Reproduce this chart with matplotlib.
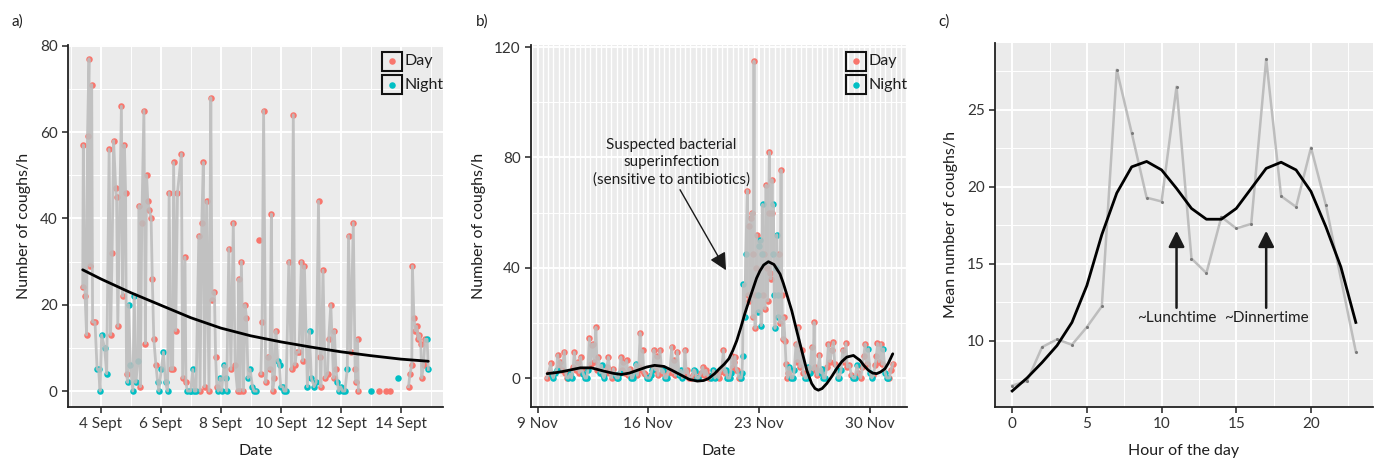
import numpy as np
import matplotlib
matplotlib.use('Agg')
import matplotlib.pyplot as plt
from matplotlib.patches import Rectangle
from matplotlib.ticker import MultipleLocator, FixedLocator

plt.rcParams['font.family'] = ['Lato', 'DejaVu Sans']

DAY_C = '#F8766D'
NIGHT_C = '#00BFC4'
BG = '#EBEBEB'
LINE_GREY = '#BDBDBD'

# ---------------- Panel a: September (fractional day of month) ----------------
sept_time = [3.40, 3.42, 3.48, 3.53, 3.56, 3.61, 3.64, 3.70, 3.73, 3.81, 3.88, 3.93, 3.98, 4.03, 4.13, 4.20,
             4.28, 4.33, 4.38, 4.43, 4.50, 4.53, 4.57, 4.69, 4.73, 4.79, 4.83, 4.86, 4.90, 4.93, 4.99, 5.07, 5.12, 5.17, 5.24,
             5.28, 5.32, 5.37, 5.44, 5.49, 5.53, 5.57, 5.62, 5.68, 5.72, 5.77, 5.84, 5.90, 5.94, 6.02, 6.09, 6.16, 6.23,
             6.28, 6.34, 6.40, 6.43, 6.50, 6.56, 6.69, 6.73, 6.81, 6.84, 6.89, 6.96, 7.00, 7.07, 7.12, 7.18,
             7.27, 7.31, 7.37, 7.42, 7.46, 7.53, 7.61, 7.67, 7.71, 7.79, 7.83, 7.87, 7.92, 7.98, 8.03, 8.11, 8.16, 8.20,
             8.27, 8.34, 8.42, 8.48, 8.56, 8.60, 8.64, 8.69, 8.76, 8.81, 8.86, 8.91, 8.98, 9.06, 9.11, 9.18,
             9.22, 9.27, 9.31,
             9.34, 9.38, 9.43, 9.50, 9.58, 9.64, 9.69, 9.73, 9.79, 9.84, 9.90, 9.96, 10.00, 10.07, 10.11, 10.18,
             10.27, 10.36, 10.42, 10.47, 10.53, 10.61, 10.69, 10.73, 10.79, 10.89, 10.96, 11.02, 11.11, 11.18,
             11.26, 11.31, 11.34, 11.41, 11.48, 11.56, 11.60, 11.67, 11.76, 11.79, 11.84, 11.89, 11.93, 12.00, 12.06, 12.14, 12.22,
             12.26, 12.33, 12.42, 12.48, 12.51, 12.56, 12.59,
             12.80, 13.00, 13.13, 13.26, 13.38, 13.50, 13.57, 13.64, 13.78, 13.92, 14.10,
             14.26, 14.31, 14.37, 14.39, 14.44, 14.49, 14.53, 14.59, 14.62, 14.67, 14.70, 14.76, 14.81, 14.88, 14.92]
nan = float('nan')
sept_coughs = [24, 57, 22, 13, 59, 77, 29, 71, 16, 16, 5, 5, 0, 13, 10, 4,
               56, 13, 32, 58, 47, 45, 15, 66, 22, 57, 46, 4, 2, 20, 6, 0, 22, 2, 7,
               43, 1, 39, 65, 11, 50, 44, 42, 40, 26, 12, 6, 2, 0, 5, 9, 2, 0,
               46, 5, 5, 53, 14, 46, 55, 3, 31, 2, 0, 0, 0, 5, 0, 0,
               36, 0, 39, 53, 1, 44, 0, 68, 21, 23, 8, 1, 0, 3, 0, 6, 3, 0,
               33, 5, 39, 6, 0, 26, 0, 30, 0, 20, 17, 3, 5, 1, 0, 0,
               nan, 35, nan,
               4, 16, 65, 2, 8, 5, 41, 0, 3, 14, 7, 6, 1, 1, 0, 0,
               30, 5, 64, 6, 9, 9, 30, 7, 29, 1, 14, 3, 1, 2,
               44, 8, 1, 28, 3, 4, 12, 20, 3, 14, 5, 2, 0, 1, 0, 0, 5,
               36, 9, 39, 5, 2, 12, 0,
               nan, 0, nan, 0, nan, 0, nan, 0, nan, 3, nan,
               1, 4, 6, 29, 17, 14, 15, 12, 13, 11, 3, 6, 12, 12, 5]
sept_trend_time = [3.40, 4.0, 5.0, 6.0, 7.0, 8.0, 9.0, 10.0, 11.0, 12.0, 13.0, 14.0, 14.92]
sept_trend = [28.1, 26.0, 22.8, 19.9, 17.0, 14.6, 12.8, 11.4, 10.2, 9.1, 8.2, 7.4, 6.9]
sept_ticks = [4, 6, 8, 10, 12, 14]
sept_ticklabels = ['4 Sept', '6 Sept', '8 Sept', '10 Sept', '12 Sept', '14 Sept']

# ---------------- Panel b: November (fractional day; >30 = December) ----------------
nov_time = [9.57, 9.70, 9.82, 9.92, 9.99, 10.10, 10.20, 10.27, 10.34, 10.41, 10.55, 10.69, 10.76, 10.84, 10.95,
            11.05, 11.15, 11.25, 11.32, 11.42, 11.53, 11.63, 11.72, 11.80, 11.89, 12.00, 12.10, 12.18, 12.27, 12.35,
            12.42, 12.48, 12.58, 12.69, 12.76, 12.84, 12.95, 13.05, 13.12, 13.20, 13.30, 13.38, 13.47, 13.57, 13.68,
            13.79, 13.90, 14.00, 14.10, 14.18, 14.27, 14.35, 14.42, 14.52, 14.63, 14.73, 14.84, 14.93, 15.01, 15.12,
            15.22, 15.30, 15.40, 15.48, 15.56, 15.65, 15.72, 15.79, 15.90, 16.00, 16.07, 16.15, 16.22, 16.30, 16.36,
            16.45, 16.53, 16.62, 16.74, 16.85, 16.95, 17.05, 17.16, 17.25, 17.38, 17.48, 17.56, 17.63, 17.72, 17.84,
            17.95, 18.07, 18.15, 18.25, 18.32, 18.40, 18.47, 18.58, 18.68, 18.80, 18.88, 18.96, 19.06, 19.17, 19.27,
            19.35, 19.44, 19.55, 19.65, 19.75, 19.86, 19.95, 20.05, 20.12, 20.22, 20.33, 20.45, 20.54, 20.65, 20.75,
            20.84, 20.92, 21.00, 21.07, 21.15, 21.22, 21.28, 21.35, 21.42, 21.49, 21.57, 21.64, 21.72, 21.81, 21.88,
            21.94, 21.97, 22.02, 22.10, 22.17, 22.27, 22.30, 22.35, 22.40, 22.47, 22.54, 22.60, 22.65, 22.69, 22.73,
            22.76, 22.80, 22.86, 22.92, 22.97, 23.02, 23.07, 23.14, 23.20, 23.24, 23.28, 23.32, 23.38, 23.45, 23.50,
            23.56, 23.62, 23.66, 23.71, 23.75, 23.80, 23.83, 23.88, 23.92, 23.97, 24.02, 24.08, 24.13, 24.18, 24.23,
            24.28, 24.33, 24.40, 24.45, 24.51, 24.58, 24.65, 24.72, 24.80, 24.87, 24.93, 25.03, 25.14, 25.24, 25.35,
            25.43, 25.50, 25.60, 25.71, 25.80, 25.92, 26.02, 26.13, 26.22, 26.34, 26.42, 26.49, 26.55, 26.62, 26.70,
            26.83, 26.90, 26.97, 27.08, 27.19, 27.30, 27.40, 27.50, 27.60, 27.71, 27.80, 27.92, 28.00, 28.09, 28.20,
            28.30, 28.40, 28.51, 28.60, 28.73, 28.85, 28.98, 29.08, 29.19, 29.30, 29.44, 29.55, 29.64, 29.72, 29.82,
            29.93, 30.03, 30.14, 30.25, 30.35, 30.43, 30.50, 30.60, 30.71, 30.80, 30.88, 30.98, 31.09, 31.18, 31.26,
            31.36, 31.47]
nov_coughs = [0, 2, 5.4, 1, 0, 2, 3, 8.4, 4, 6, 3, 9.6, 2, 0, 0,
              1.5, 0, 4, 9.4, 3, 5.8, 2, 7.6, 3, 1.5, 0, 0, 3, 14.4, 5,
              12, 12.4, 6, 18.4, 3, 7.6, 2, 4.6, 1, 0, 2, 4, 7.6, 2, 0,
              3.4, 1, 0, 0, 2, 7.6, 3, 5.8, 2, 6.4, 1, 3.4, 0, 0, 2,
              5.2, 1, 4, 16.4, 3, 10, 2, 1.5, 0, 0, 0, 1, 2.8, 4, 10.2,
              3, 8, 1, 10.2, 2, 2.8, 0, 0, 2, 3, 11.4, 2, 6.4, 1, 9.6,
              1, 2.8, 0, 1, 10.2, 2, 2.8, 0, 0, 1, 3, 2.6, 0, 0, 1,
              2, 4, 1, 2.8, 1, 0, 0, 1, 2.8, 0, 1.5, 0, 2.2, 3, 10.2,
              2, 2.8, 0, 0, 0, 2, 8, 4, 6, 7.8, 3, 2.8, 0, 0, 0,
              2, 8, 34, 22, 45, 68, 30, 55, 28, 58, 60, 22, 45, 115, 30,
              18, 40, 52, 30, 24, 48, 50, 19, 45, 63, 30, 45, 25, 70, 40,
              28, 60, 82, 38, 36, 60, 72, 45, 63, 30, 18, 40, 52, 30, 22,
              45, 20, 75.5, 30, 14, 22, 13.6, 5, 0, 2, 4, 0, 0, 3, 12.4,
              6, 18.4, 4, 10.2, 2, 0, 0, 4, 2, 11.2, 3, 20.2, 4, 2.8, 1,
              8.4, 2, 3.4, 0, 0, 4, 12.4, 6, 10, 13, 5, 2.8, 0, 0, 3,
              10.2, 6, 12.6, 4, 4.6, 1, 0, 0, 4.6, 2, 0, 4, 8, 12.4, 5,
              10.6, 2, 0, 1, 4.6, 8, 12.6, 6, 12.4, 5, 10.6, 2, 0, 0, 0,
              3, 5.2]
nov_smooth_time = [9.6, 10.2, 10.7, 11.2, 11.7, 12.4, 13.2, 13.8, 14.3, 14.8, 15.3, 15.9, 16.4, 17.0, 17.5,
                   18.1, 18.6, 19.1, 19.5, 19.8, 20.2, 20.5, 20.8, 21.1, 21.35, 21.6, 21.85, 22.1, 22.4, 22.65,
                   22.85, 23.07, 23.3, 23.6, 23.95, 24.34, 24.55, 24.76, 25.08, 25.39, 25.71, 26.03, 26.34, 26.55, 26.76,
                   27.0, 27.29, 27.6, 27.92, 28.25, 28.56, 28.98, 29.4, 29.65, 29.93, 30.2, 30.45, 30.7, 30.98, 31.2, 31.47]
nov_smooth = [1.6, 2.0, 2.5, 3.1, 3.7, 3.7, 2.5, 1.7, 1.3, 1.8, 2.8, 4.0, 4.6, 4.2, 2.8,
              1.0, -0.5, -1.1, -0.9, -0.2, 1.6, 3.4, 5.0, 7.0, 10.0, 13.6, 18.2, 23.2, 28.5, 32.8,
              36.2, 38.9, 41.0, 42.2, 41.2, 37.7, 34.3, 30.4, 24.4, 17.2, 10.0, 2.8, -2.0, -3.8, -4.4,
              -3.8, -2.0, 0.5, 3.4, 6.0, 7.6, 8.2, 6.4, 4.5, 2.8, 1.8, 1.6, 2.2, 3.4, 5.5, 8.8]
nov_ticks = [9, 16, 23, 30]
nov_ticklabels = ['9 Nov', '16 Nov', '23 Nov', '30 Nov']

# ---------------- Panel c: hour of day ----------------
hours = [0, 1, 2, 3, 4, 5, 6, 7, 8, 9, 10, 11, 12, 13, 14, 15, 16, 17, 18, 19, 20, 21, 23]
hour_mean = [7.1, 7.4, 9.6, 10.1, 9.75, 10.9, 12.25, 27.6, 23.5, 19.3, 19.05, 26.5, 15.35, 14.4,
             18.05, 17.3, 17.6, 28.3, 19.4, 18.7, 22.55, 18.8, 9.3]
smooth_hours = list(range(24))
hour_smooth = [6.75, 7.6, 8.6, 9.7, 11.2, 13.6, 16.9, 19.6, 21.3, 21.65, 21.1, 19.9, 18.6, 17.9,
               17.9, 18.6, 19.9, 21.2, 21.6, 21.1, 19.7, 17.4, 14.8, 11.2]

assert len(sept_time) == len(sept_coughs)
assert len(nov_time) == len(nov_coughs), (len(nov_time), len(nov_coughs))
assert len(nov_smooth_time) == len(nov_smooth)


def is_night(t):
    h = (np.asarray(t) % 1.0) * 24
    return (h >= 21) | (h < 6)


FS = 11
TXT = '#1e1e1e'
TICK_TXT = '#333333'

fig = plt.figure(figsize=(13.76, 4.61), dpi=100)
W, H = 1376, 461


def make_ax(x0, x1, ytop, ybot):
    return fig.add_axes([x0 / W, 1 - ybot / H, (x1 - x0) / W, (ybot - ytop) / H])


def style(ax):
    ax.set_facecolor(BG)
    for s in ['top', 'right']:
        ax.spines[s].set_visible(False)
    for s in ['left', 'bottom']:
        ax.spines[s].set_color('#222222')
        ax.spines[s].set_linewidth(1.3)
    ax.tick_params(which='major', direction='out', length=4.5, width=1.1, color='#222222',
                   labelsize=FS, labelcolor=TICK_TXT, pad=3)
    ax.tick_params(which='minor', length=0)
    ax.grid(which='major', color='white', linewidth=1.4)
    ax.grid(which='minor', color='white', linewidth=0.7)
    ax.set_axisbelow(True)


def legend(ax):
    w, h = 0.053, 0.053
    x0 = 0.838
    for i, (lab, col) in enumerate([('Day', DAY_C), ('Night', NIGHT_C)]):
        yb = 0.928 - i * 0.064
        ax.add_patch(Rectangle((x0, yb), w, h, transform=ax.transAxes, fill=False,
                               ec='#111111', lw=1.5, zorder=10, clip_on=False))
        ax.scatter([x0 + w / 2], [yb + h / 2], transform=ax.transAxes, s=22, color=col,
                   zorder=11, clip_on=False, linewidths=0)
        ax.text(x0 + w + 0.006, yb + h / 2, lab, transform=ax.transAxes, va='center',
                ha='left', fontsize=FS + 0.5, color=TXT, zorder=11)


def series(ax, t, v):
    t = np.asarray(t, float)
    v = np.asarray(v, float)
    n = is_night(t)
    ok = ~np.isnan(v)
    ax.scatter(t[ok & ~n], v[ok & ~n], s=22, color=DAY_C, linewidths=0, zorder=2)
    ax.scatter(t[ok & n], v[ok & n], s=22, color=NIGHT_C, linewidths=0, zorder=2)
    ax.plot(t, v, color=LINE_GREY, lw=2.0, alpha=0.9, zorder=3, solid_joinstyle='round')


# ---- panel a
axa = make_ax(68, 443, 45, 407)
style(axa)
series(axa, sept_time, sept_coughs)
axa.plot(sept_trend_time, sept_trend, color='black', lw=2.0, zorder=4, solid_capstyle='round')
axa.set_xlim(2.91, 15.41)
axa.set_ylim(-3.7, 80.2)
axa.xaxis.set_major_locator(FixedLocator(sept_ticks))
axa.set_xticklabels(sept_ticklabels)
axa.xaxis.set_minor_locator(MultipleLocator(1))
axa.yaxis.set_major_locator(MultipleLocator(20))
axa.yaxis.set_minor_locator(MultipleLocator(10))
axa.set_xlabel('Date', fontsize=FS + 0.5, color=TXT, labelpad=9)
axa.set_ylabel('Number of coughs/h', fontsize=FS + 0.5, color=TXT, labelpad=6)
legend(axa)

# ---- panel b
axb = make_ax(531, 907, 45, 407)
style(axb)
series(axb, nov_time, nov_coughs)
axb.plot(nov_smooth_time, nov_smooth, color='black', lw=2.0, zorder=4, solid_capstyle='round')
axb.set_xlim(8.58, 32.37)
axb.set_ylim(-10.5, 120.8)
axb.xaxis.set_major_locator(FixedLocator(nov_ticks))
axb.set_xticklabels(nov_ticklabels)
axb.xaxis.set_minor_locator(MultipleLocator(1 / 3))
axb.yaxis.set_major_locator(MultipleLocator(40))
axb.yaxis.set_minor_locator(MultipleLocator(20))
axb.grid(which='minor', axis='x', color='white', linewidth=1.0)
axb.set_xlabel('Date', fontsize=FS + 0.5, color=TXT, labelpad=9)
axb.set_ylabel('Number of coughs/h', fontsize=FS + 0.5, color=TXT, labelpad=6)
legend(axb)
axb.text(17.48, 78.2, 'Suspected bacterial\nsuperinfection\n(sensitive to antibiotics)',
         ha='center', va='center', fontsize=FS, color=TXT, linespacing=1.25, zorder=6)
axb.annotate('', xy=(20.92, 39.1), xytext=(18.01, 68.3),
             arrowprops=dict(arrowstyle='-|>', color='#1a1a1a', lw=1.0, mutation_scale=26,
                             shrinkA=0, shrinkB=0), zorder=6)

# ---- panel c
axc = make_ax(995, 1373, 43, 407)
style(axc)
axc.plot(hours, hour_mean, color=LINE_GREY, lw=1.8, zorder=3)
axc.scatter(hours, hour_mean, s=5, color='#7a7a7a', linewidths=0, zorder=3)
axc.plot(smooth_hours, hour_smooth, color='black', lw=2.0, zorder=4)
axc.set_xlim(-1.15, 24.15)
axc.set_ylim(5.71, 29.34)
axc.xaxis.set_major_locator(MultipleLocator(5))
axc.xaxis.set_minor_locator(MultipleLocator(2.5))
axc.yaxis.set_major_locator(FixedLocator([10, 15, 20, 25]))
axc.yaxis.set_minor_locator(MultipleLocator(2.5))
axc.set_xlabel('Hour of the day', fontsize=FS + 0.5, color=TXT, labelpad=9)
axc.set_ylabel('Mean number of coughs/h', fontsize=FS + 0.5, color=TXT, labelpad=6)
for hx, lab in [(11, '~Lunchtime'), (17, '~Dinnertime')]:
    axc.text(hx, 11.5, lab, ha='center', va='center', fontsize=FS, color=TXT, zorder=6)
    axc.annotate('', xy=(hx, 17.15), xytext=(hx, 12.15),
                 arrowprops=dict(arrowstyle='-|>', color='#1a1a1a', lw=1.8, mutation_scale=24,
                                 shrinkA=0, shrinkB=0), zorder=6)

# panel letters
for px, lab in [(12, 'a)'), (476, 'b)'), (938, 'c)')]:
    fig.text(px / W, 1 - 22 / H, lab, ha='left', va='center', fontsize=FS, color=TXT)

fig.savefig('out.png', dpi=100)
